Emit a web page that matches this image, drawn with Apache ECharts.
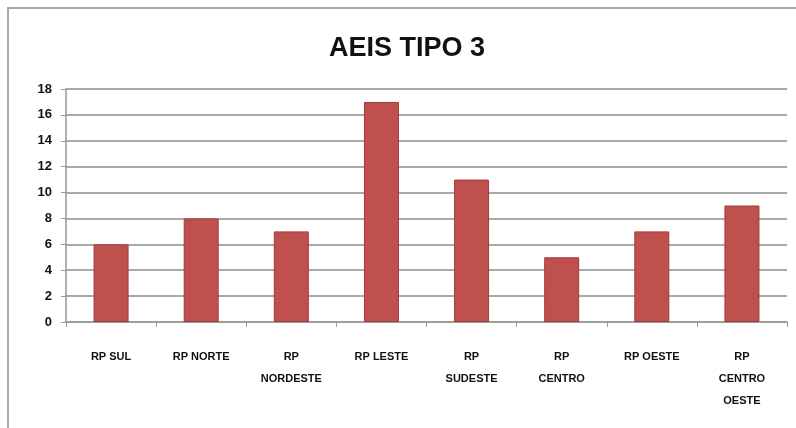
<!DOCTYPE html>
<html>
<head>
<meta charset="utf-8">
<script src="https://cdn.jsdelivr.net/npm/echarts@6/dist/echarts.min.js"></script>
<style>
  html, body { margin: 0; padding: 0; background: #fff; }
  #main { width: 796px; height: 428px; }
</style>
</head>
<body>
<div id="main"></div>
<script>
var categories = ['RP SUL', 'RP NORTE', 'RP NORDESTE', 'RP LESTE', 'RP SUDESTE', 'RP CENTRO', 'RP OESTE', 'RP CENTRO OESTE'];
var tickLabels = ['RP SUL', 'RP NORTE', 'RP\nNORDESTE', 'RP LESTE', 'RP\nSUDESTE', 'RP\nCENTRO', 'RP OESTE', 'RP\nCENTRO\nOESTE'];
var values = [6, 8, 7, 17, 11, 5, 7, 9];

var chartDom = document.getElementById('main');
var myChart = echarts.init(chartDom);
var option = {
    backgroundColor: '#fff',
    animation: false,
    title: {
        text: 'AEIS TIPO 3',
        left: 324,
        top: 30,
        textStyle: {
            fontFamily: 'Liberation Sans',
            fontWeight: 'bold',
            fontSize: 27,
            color: '#111'
        }
    },
    graphic: [{
        type: 'rect',
        shape: { x: 8, y: 8, width: 800, height: 440 },
        style: { fill: 'none', stroke: '#a8a8a8', lineWidth: 2 },
        silent: true
    }],
    grid: {
        left: 66,
        right: 9,
        top: 89,
        bottom: 106
    },
    xAxis: {
        type: 'category',
        data: categories,
        axisLine: { lineStyle: { color: '#999', width: 1.5 } },
        axisTick: { show: true, length: 5, lineStyle: { color: '#999' } },
        axisLabel: {
            margin: 24,
            interval: 0,
            color: '#111',
            fontFamily: 'Liberation Sans',
            fontWeight: 'bold',
            fontSize: 11,
            lineHeight: 22,
            formatter: function (v, i) { return tickLabels[i]; }
        }
    },
    yAxis: {
        type: 'value',
        min: 0,
        max: 18,
        interval: 2,
        axisLine: { show: true, lineStyle: { color: '#999', width: 1.5 } },
        axisTick: { show: true, length: 5, lineStyle: { color: '#999' } },
        splitLine: { lineStyle: { color: '#8c8c8c', width: 1.5 } },
        axisLabel: {
            margin: 14,
            color: '#111',
            fontFamily: 'Liberation Sans',
            fontWeight: 'bold',
            fontSize: 13
        }
    },
    series: [{
        type: 'bar',
        data: values,
        barWidth: 35,
        itemStyle: {
            color: '#c0504d',
            borderColor: '#9e3d3a',
            borderWidth: 1
        }
    }]
};
myChart.setOption(option);
</script>
</body>
</html>
